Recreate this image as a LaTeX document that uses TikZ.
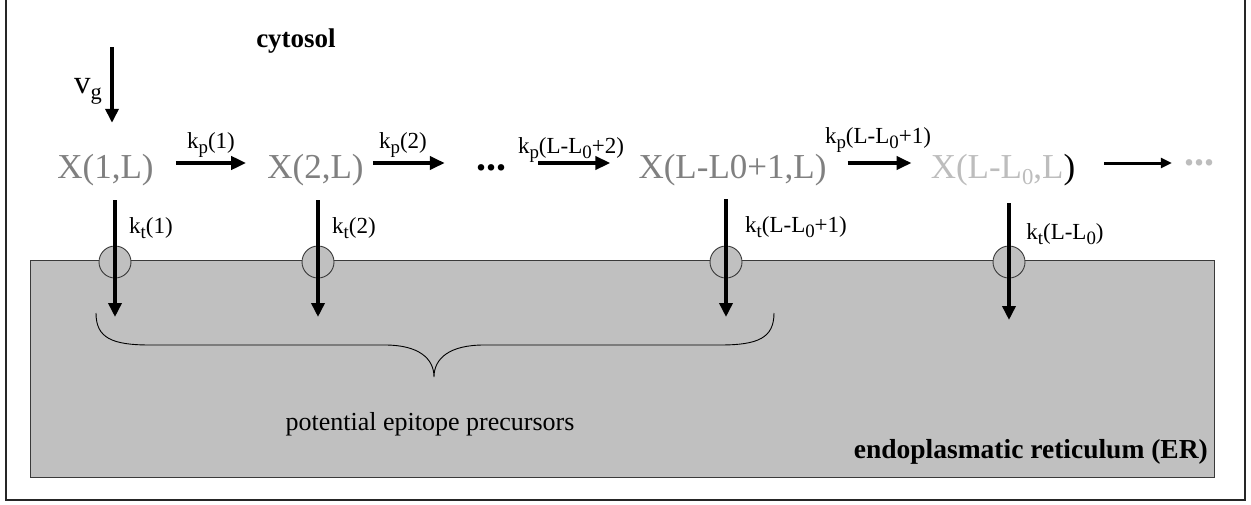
\documentclass[tikz,border=0pt]{standalone}
\usepackage{fontspec}
\setmainfont{Liberation Serif}
\usepackage{graphicx}
\usetikzlibrary{arrows.meta}
\definecolor{ergray}{HTML}{C0C0C0}
\definecolor{xgray}{HTML}{808080}
\definecolor{xlight}{HTML}{BDBDBD}
\definecolor{edgegray}{HTML}{3A3A3A}
\newcommand\lsub[1]{\raisebox{-0.24em}{\scalebox{0.82}{#1}}}
\newcommand\xsub[1]{\raisebox{-0.18em}{\scalebox{0.65}{#1}}}
\begin{document}
\begin{tikzpicture}[x=1pt,y=-1pt,
  species/.style={inner sep=0pt, text height=34pt, text depth=4pt, font=\fontsize{35}{40}\selectfont, text=xgray},
  dotsnode/.style={inner sep=0pt, font=\bfseries\fontsize{40}{44}\selectfont},
  lbl/.style={inner sep=0pt, anchor=base, font=\fontsize{23}{26}\selectfont},
  harrow/.style={line width=4.5pt, -{Triangle[width=13pt,length=15pt]}},
  thinarrow/.style={line width=3pt, -{Triangle[width=10pt,length=11pt]}},
  varrow/.style={line width=4pt, -{Triangle[width=13pt,length=14pt]}},
  pore/.style={circle, draw=edgegray, line width=0.9pt, fill=ergray, minimum size=32pt, inner sep=0pt},
  frame/.style={draw=black!85, line width=1.5pt},
  erbox/.style={draw=edgegray, line width=1pt, fill=ergray},
]
\useasboundingbox (0,0) rectangle (1251,504);
% outer frame (top edge lies above the page)
\draw[frame] (6,-5) rectangle (1245,500);
% endoplasmatic reticulum
\draw[erbox] (30,260) rectangle (1214,477);

% titles
\node[anchor=base, inner sep=0pt, font=\bfseries\fontsize{27}{30}\selectfont] (cyt) at (296,47) {cytosol};
\node[anchor=base east, inner sep=0pt, font=\bfseries\fontsize{27.5}{32}\selectfont] (er) at (1208,458) {endoplasmatic reticulum (ER)};

% species
\node[species, minimum width=91pt] (X1) at (105.5,163) {X(1,L)};
\node[species, minimum width=95pt] (X2) at (315.5,163) {X(2,L)};
\node[dotsnode, minimum width=30pt, text height=18pt, text depth=4pt] (D1) at (491,163) {...};
\node[species, minimum width=185pt] (X3) at (732.5,163) {X(L-L0+1,L)};
\node[species, minimum width=132pt] (X4) at (1003,163) {\textcolor{xlight}{X(L-L\xsub{0},L}\textcolor{black}{)}};
\node[dotsnode, minimum width=28pt, text height=8pt, text depth=4pt, text=xlight] (D2) at (1199,163) {...};

% influx
\coordinate (vg0) at (112,47);
\node[anchor=base west, inner sep=0pt, font=\fontsize{33}{36}\selectfont] (vg) at (74,93) {v\raisebox{-0.2em}{\scalebox{0.68}{g}}};
\draw[varrow, shorten >=21pt] (vg0) -- (X1.north -| vg0);

% propagation arrows
\draw[harrow, shorten <=22pt, shorten >=21pt] (X1.east) -- (X2.west);
\draw[harrow, shorten <=9pt, shorten >=31pt] (X2.east) -- (D1.west);
\draw[harrow, shorten <=32pt, shorten >=28pt] (D1.east) -- (X3.west);
\draw[harrow, shorten <=21pt, shorten >=19pt] (X3.east) -- (X4.west);
\draw[thinarrow, shorten <=29pt, shorten >=12pt] (X4.east) -- (D2.west);

\node[lbl] (kp1) at (211,148) {k\lsub{p}(1)};
\node[lbl] (kp2) at (403,148) {k\lsub{p}(2)};
\node[lbl] (kp3) at (571,153) {k\lsub{p}(L-L\lsub{0}+2)};
\node[lbl] (kp4) at (878,143) {k\lsub{p}(L-L\lsub{0}+1)};

% transport pores
\node[pore] (P1) at (115,262) {};
\node[pore] (P2) at (318,262) {};
\node[pore] (P3) at (726,262) {};
\node[pore] (P4) at (1009,262) {};
\coordinate (E1) at (115,317);
\coordinate (E2) at (318,317);
\coordinate (E3) at (726,317);
\coordinate (E4) at (1009,320);
\draw[varrow, shorten <=18pt] (X1.south -| P1) -- (E1);
\draw[varrow, shorten <=18pt] (X2.south -| P2) -- (E2);
\draw[varrow, shorten <=17pt] (X3.south -| P3) -- (E3);
\draw[varrow, shorten <=21pt] (X4.south -| P4) -- (E4);

\node[lbl] (kt1) at (151,233) {k\lsub{t}(1)};
\node[lbl] (kt2) at (354,233) {k\lsub{t}(2)};
\node[lbl] (kt3) at (796,232) {k\lsub{t}(L-L\lsub{0}+1)};
\node[lbl] (kt4) at (1065,239) {k\lsub{t}(L-L\lsub{0})};

% brace
\draw[line width=0.9pt] (96,313) .. controls (96,338) and (112,345) .. (150,345)
  -- (385,345) .. controls (418,345) and (434,358) .. (434,377)
  .. controls (434,358) and (450,345) .. (484,345)
  -- (720,345) .. controls (758,345) and (774,338) .. (774,313);
\node[anchor=base, inner sep=0pt, font=\fontsize{26}{30}\selectfont] (pep) at (430,430) {potential epitope precursors};
\end{tikzpicture}
\end{document}
